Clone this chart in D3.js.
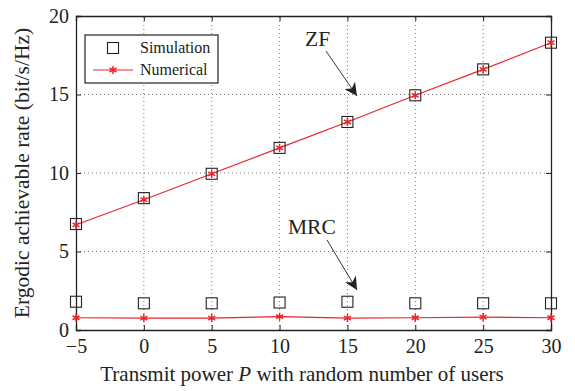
<!DOCTYPE html>
<html>
<head>
<meta charset="utf-8">
<script src="https://cdn.jsdelivr.net/npm/d3@7"></script>
<style>
  body { margin: 0; background: #fff; }
  text { font-family: "Liberation Serif", "Times New Roman", serif; fill: #222; }
</style>
</head>
<body>
<svg width="575" height="391"></svg>
<script>
"use strict";

// data
const power = [-5, 0, 5, 10, 15, 20, 25, 30];
const zfSim = [6.75, 8.4, 9.95, 11.6, 13.25, 14.95, 16.6, 18.3];
const zfNum = [6.7, 8.3, 9.95, 11.6, 13.25, 14.95, 16.6, 18.3];
const mrcSim = [1.8, 1.7, 1.7, 1.75, 1.8, 1.7, 1.7, 1.7];
const mrcNum = [0.78, 0.76, 0.76, 0.85, 0.76, 0.78, 0.82, 0.78];
const xTicks = [-5, 0, 5, 10, 15, 20, 25, 30];
const yTicks = [0, 5, 10, 15, 20];

const svg = d3.select("svg");
const margin = {left: 76, right: 24, top: 16, bottom: 61};
const width = 575, height = 391;

let x = d3.scaleLinear().domain([-5, 30]).range([margin.left, width - margin.right]);
let y = d3.scaleLinear().domain([0, 20]).range([height - margin.bottom, margin.top]);

// grid
const grid = svg.append("g").attr("class", "grid");
xTicks.slice(1, -1).forEach(t => {
    grid.append("line")
    .attr("x1", x(t)).attr("x2", x(t))
    .attr("y1", y(0)).attr("y2", y(20))
    .attr("stroke", "#555").attr("stroke-width", 0.8)
    .attr("stroke-dasharray", "1,3");
});
yTicks.slice(1, -1).forEach(t => {
    grid.append("line")
    .attr("x1", x(-5)).attr("x2", x(30))
    .attr("y1", y(t)).attr("y2", y(t))
    .attr("stroke", "#555").attr("stroke-width", 0.8)
    .attr("stroke-dasharray", "1,3");
});

// axes, ticks inward on all four sides
svg.append("g")
.attr("class", "xb")
.attr("transform", `translate(0, ${y(0)})`)
.call(d3.axisBottom(x).tickValues(xTicks).tickSize(-5).tickPadding(9)
    .tickFormat(d => d < 0 ? "\u2212" + Math.abs(d) : d));
svg.append("g")
.attr("transform", `translate(0, ${y(20)})`)
.call(d3.axisTop(x).tickValues(xTicks).tickSize(-5).tickFormat(""));
svg.append("g")
.attr("class", "yl")
.attr("transform", `translate(${x(-5)}, 0)`)
.call(d3.axisLeft(y).tickValues(yTicks).tickSize(-5).tickPadding(7));
svg.append("g")
.attr("transform", `translate(${x(30)}, 0)`)
.call(d3.axisRight(y).tickValues(yTicks).tickSize(-5).tickFormat(""));

svg.selectAll(".domain").attr("stroke", "#222").attr("stroke-width", 1.3);
svg.selectAll(".tick line").attr("stroke", "#222");
svg.selectAll(".tick text")
.style("font-family", "Liberation Serif")
.style("font-size", "20px")
.attr("fill", "#222");

// lines
const line = d3.line().x((d, i) => x(power[i])).y(d => y(d));
[zfNum, mrcNum].forEach(s => {
    svg.append("path")
    .datum(s)
    .attr("d", line)
    .attr("fill", "none")
    .attr("stroke", "#e8262a")
    .attr("stroke-width", 1.2);
});

// star marker
const star = d3.symbol().type(d3.symbolAsterisk).size(45);
function drawStars(s) {
    svg.append("g").selectAll("path")
    .data(s)
    .enter()
    .append("path")
    .attr("d", star)
    .attr("transform", (d, i) => `translate(${x(power[i])}, ${y(d)})`)
    .attr("stroke", "#e8262a")
    .attr("stroke-width", 1.5)
    .attr("fill", "none");
}
drawStars(zfNum);
drawStars(mrcNum);

// squares
const sq = 11;
[zfSim, mrcSim].forEach(s => {
    svg.append("g").selectAll("rect")
    .data(s)
    .enter()
    .append("rect")
    .attr("x", (d, i) => x(power[i]) - sq / 2)
    .attr("y", d => y(d) - sq / 2)
    .attr("width", sq).attr("height", sq)
    .attr("fill", "none")
    .attr("stroke", "#222")
    .attr("stroke-width", 1.1);
});

// legend
const legend = svg.append("g").attr("transform", "translate(85, 35)");
legend.append("rect")
.attr("width", 133).attr("height", 48)
.attr("fill", "#fff").attr("stroke", "#222").attr("stroke-width", 1.2);
legend.append("rect")
.attr("x", 113 - 85 - 5.5).attr("y", 48 - 35 - 5.5)
.attr("width", sq).attr("height", sq)
.attr("fill", "none").attr("stroke", "#222").attr("stroke-width", 1.1);
legend.append("text").text("Simulation")
.attr("x", 140 - 85).attr("y", 53 - 35).style("font-size", "16px");
legend.append("line")
.attr("x1", 93 - 85).attr("x2", 133 - 85)
.attr("y1", 70 - 35).attr("y2", 70 - 35)
.attr("stroke", "#e8262a").attr("stroke-width", 1.2);
legend.append("path")
.attr("d", star)
.attr("transform", `translate(${113 - 85}, ${70 - 35})`)
.attr("stroke", "#e8262a").attr("stroke-width", 1.5).attr("fill", "none");
legend.append("text").text("Numerical")
.attr("x", 140 - 85).attr("y", 75 - 35).style("font-size", "16px");

// annotations
svg.append("defs").append("marker")
.attr("id", "arrow")
.attr("viewBox", "0 0 10 10")
.attr("refX", 10).attr("refY", 5)
.attr("markerWidth", 13).attr("markerHeight", 13)
.attr("markerUnits", "userSpaceOnUse")
.attr("orient", "auto")
.append("path")
.attr("d", "M0,0 L10,5 L0,10 L3,5 Z")
.attr("fill", "#222");

function annotate(label, tx, ty, x1, y1, x2, y2) {
    svg.append("text").text(label)
    .attr("x", tx).attr("y", ty)
    .style("font-size", "21.5px");
    svg.append("line")
    .attr("x1", x1).attr("y1", y1).attr("x2", x2).attr("y2", y2)
    .attr("stroke", "#222").attr("stroke-width", 0.9)
    .attr("marker-end", "url(#arrow)");
}
annotate("ZF", 305, 46, 326, 51, 357, 96);
annotate("MRC", 288, 234, 327, 240, 357, 290);

// axis labels
svg.append("text")
.text("Transmit power ")
.attr("x", 0).attr("y", 0)
.style("font-size", "21px")
.attr("id", "xlab");
let xl = svg.select("#xlab");
xl.append("tspan").text("P").style("font-style", "italic");
xl.append("tspan").text(" with random number of users");
let xlw = xl.node().getBBox().width;
xl.attr("x", 302 - xlw / 2).attr("y", 381);

svg.append("text")
.text("Ergodic achievable rate (bit/s/Hz)")
.attr("text-anchor", "middle")
.attr("transform", `translate(29, ${(y(0) + y(20)) / 2}) rotate(-90)`)
.style("font-size", "21.5px");
</script>
</body>
</html>
